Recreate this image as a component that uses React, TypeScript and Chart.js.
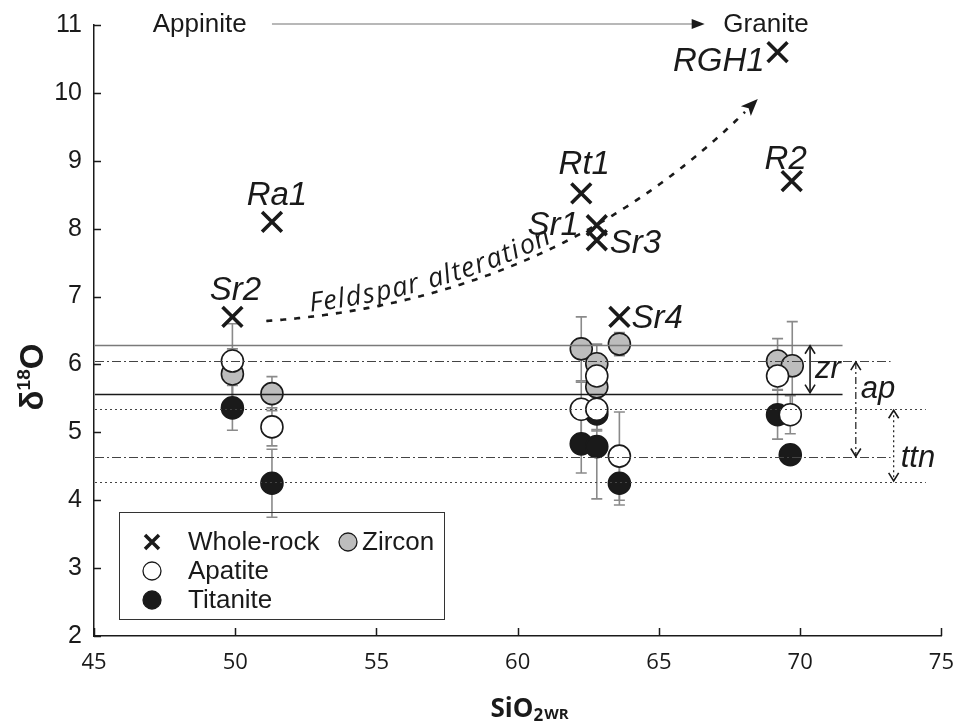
import React, { useEffect, useRef } from "react";
import { Chart, registerables } from "chart.js";

Chart.register(...registerables);

// ---------- data ----------
const xTickValues = [45, 50, 55, 60, 65, 70, 75];
const yTickValues = [2, 3, 4, 5, 6, 7, 8, 9, 10, 11];

const wholeRockNames = ["Sr2", "Ra1", "Rt1", "Sr1", "Sr3", "Sr4", "R2", "RGH1"];
const wholeRockSiO2 = [49.9, 51.3, 62.25, 62.8, 62.8, 63.6, 69.7, 69.2];
const wholeRockD18O = [6.7, 8.1, 8.52, 8.05, 7.83, 6.7, 8.7, 10.6];

const zirconSiO2 = [49.9, 51.3, 62.25, 62.8, 62.8, 63.6, 69.2, 69.72];
const zirconD18O = [5.86, 5.57, 6.23, 6.01, 5.67, 6.3, 6.05, 5.98];
const zirconErr = [0.37, 0.25, 0.47, 0.29, 0.3, 0.17, 0.33, 0.65];

const apatiteSiO2 = [49.9, 51.3, 62.25, 62.8, 62.8, 63.6, 69.2, 69.65];
const apatiteD18O = [6.05, 5.08, 5.34, 5.83, 5.34, 4.65, 5.83, 5.26];
const apatiteErr = [0.55, 0.28, 0.4, 0.2, 0.3, 0.65, 0.2, 0.28];

const titaniteSiO2 = [49.9, 51.3, 62.25, 62.8, 62.8, 63.6, 69.2, 69.65];
const titaniteD18O = [5.36, 4.25, 4.83, 5.27, 4.79, 4.25, 5.26, 4.67];
const titaniteErr = [0.33, 0.5, 0.43, 0.25, 0.77, 0.32, 0.36, 0.1];

// reference bands: zircon (solid), apatite (dash-dot), titanite (dotted)
const bandNames = ["zr", "ap", "ttn"];
const bandMax = [6.29, 6.05, 5.34];
const bandMin = [5.57, 4.63, 4.27];
const bandLineEndSiO2 = [71.5, 73.2, 74.45];
const bandArrowSiO2 = [70.35, 71.97, 73.31];

// feldspar alteration trend (quadratic curve in data units)
const trendSiO2 = [51.1, 61.6, 68.5];
const trendD18O = [6.64, 6.95, 9.91];

// ---------- styles ----------
const INK = "#1a1a1a";
const SANS = "'Liberation Sans', Arial, sans-serif";

type LabelPos = { dx: number; dy: number; align: CanvasTextAlign };
const labelPlacement: Record<string, LabelPos> = {
  Sr2: { dx: 3, dy: -17, align: "center" },
  Ra1: { dx: 5, dy: -17, align: "center" },
  Rt1: { dx: 3, dy: -19, align: "center" },
  Sr1: { dx: -18, dy: 10, align: "right" },
  Sr3: { dx: 13, dy: 13, align: "left" },
  Sr4: { dx: 12, dy: 11, align: "left" },
  R2: { dx: -6, dy: -12, align: "center" },
  RGH1: { dx: -13, dy: 19, align: "right" },
};

function quad(p0: number[], p1: number[], p2: number[], t: number) {
  const u = 1 - t;
  return [
    u * u * p0[0] + 2 * u * t * p1[0] + t * t * p2[0],
    u * u * p0[1] + 2 * u * t * p1[1] + t * t * p2[1],
  ];
}

const overlay = {
  id: "overlay",
  beforeDatasetsDraw(chart: any) {
    const ctx: CanvasRenderingContext2D = chart.ctx;
    const xs = chart.scales.x;
    const ys = chart.scales.y;
    // error bars
    ctx.save();
    ctx.strokeStyle = "#8a8a8a";
    ctx.lineWidth = 1.6;
    const groups = [
      [zirconSiO2, zirconD18O, zirconErr],
      [apatiteSiO2, apatiteD18O, apatiteErr],
      [titaniteSiO2, titaniteD18O, titaniteErr],
    ];
    for (const [sx, sv, se] of groups) {
      for (let i = 0; i < sx.length; i++) {
        const px = xs.getPixelForValue(sx[i]);
        const y1 = ys.getPixelForValue(sv[i] + se[i]);
        const y2 = ys.getPixelForValue(sv[i] - se[i]);
        ctx.beginPath();
        ctx.moveTo(px, y1);
        ctx.lineTo(px, y2);
        ctx.moveTo(px - 5.5, y1);
        ctx.lineTo(px + 5.5, y1);
        ctx.moveTo(px - 5.5, y2);
        ctx.lineTo(px + 5.5, y2);
        ctx.stroke();
      }
    }
    ctx.restore();
  },
  afterDatasetsDraw(chart: any) {
    const ctx: CanvasRenderingContext2D = chart.ctx;
    const xs = chart.scales.x;
    const ys = chart.scales.y;
    const area = chart.chartArea;
    const left = area.left + 1;

    // reference lines
    const styles = [
      { dash: [] as number[], colors: ["#7a7a7a", INK], width: [1.6, 1.3] },
      { dash: [9, 3, 2, 3], colors: ["#444", "#444"], width: [1.1, 1.1] },
      { dash: [2, 3], colors: ["#444", "#444"], width: [1.2, 1.2] },
    ];
    ctx.save();
    for (let b = 0; b < bandNames.length; b++) {
      const st = styles[b];
      const xe = xs.getPixelForValue(bandLineEndSiO2[b]);
      const vals = [bandMax[b], bandMin[b]];
      for (let k = 0; k < 2; k++) {
        const y = Math.round(ys.getPixelForValue(vals[k])) + 0.5;
        ctx.setLineDash(st.dash);
        ctx.strokeStyle = st.colors[k];
        ctx.lineWidth = st.width[k];
        ctx.beginPath();
        ctx.moveTo(left, y);
        ctx.lineTo(xe, y);
        ctx.stroke();
      }
      // double arrows
      const ax = xs.getPixelForValue(bandArrowSiO2[b]);
      const yt = ys.getPixelForValue(bandMax[b]) + 1;
      const yb = ys.getPixelForValue(bandMin[b]) - 1;
      ctx.strokeStyle = INK;
      ctx.lineWidth = b === 0 ? 1.6 : 1.2;
      ctx.setLineDash(b === 0 ? [] : b === 1 ? [7, 3, 2, 3] : [2, 3]);
      ctx.beginPath();
      ctx.moveTo(ax, yt);
      ctx.lineTo(ax, yb);
      ctx.stroke();
      ctx.setLineDash([]);
      ctx.lineWidth = 1.6;
      ctx.beginPath();
      ctx.moveTo(ax - 5, yt + 8);
      ctx.lineTo(ax, yt);
      ctx.lineTo(ax + 5, yt + 8);
      ctx.moveTo(ax - 5, yb - 8);
      ctx.lineTo(ax, yb);
      ctx.lineTo(ax + 5, yb - 8);
      ctx.stroke();
    }
    ctx.restore();

    // band labels
    ctx.save();
    ctx.fillStyle = INK;
    ctx.font = `italic 31px ${SANS}`;
    ctx.textAlign = "left";
    ctx.textBaseline = "alphabetic";
    const zx = xs.getPixelForValue(bandArrowSiO2[0]);
    ctx.fillText("zr", zx + 5, 378);
    const apx = xs.getPixelForValue(bandArrowSiO2[1]);
    ctx.fillText("ap", apx + 5, 398);
    const tx = xs.getPixelForValue(bandArrowSiO2[2]);
    ctx.fillText("ttn", tx + 7, 467);
    ctx.restore();
  },
  afterDraw(chart: any) {
    const ctx: CanvasRenderingContext2D = chart.ctx;
    const xs = chart.scales.x;
    const ys = chart.scales.y;
    const area = chart.chartArea;

    // inward ticks
    ctx.save();
    ctx.strokeStyle = INK;
    ctx.lineWidth = 1.5;
    ctx.beginPath();
    for (const v of yTickValues) {
      const y = Math.round(ys.getPixelForValue(v)) + 0.5;
      ctx.moveTo(area.left, y);
      ctx.lineTo(area.left + 7, y);
    }
    for (const v of xTickValues) {
      const x = Math.round(xs.getPixelForValue(v)) + 0.5;
      ctx.moveTo(x, area.bottom);
      ctx.lineTo(x, area.bottom - 8);
    }
    ctx.stroke();
    ctx.restore();

    // sample labels
    ctx.save();
    ctx.fillStyle = INK;
    ctx.font = `italic 33px ${SANS}`;
    ctx.textBaseline = "alphabetic";
    for (let i = 0; i < wholeRockNames.length; i++) {
      const n = wholeRockNames[i];
      const p = labelPlacement[n];
      ctx.textAlign = p.align;
      const px = xs.getPixelForValue(wholeRockSiO2[i]);
      const py = ys.getPixelForValue(wholeRockD18O[i]);
      ctx.fillText(n, px + p.dx, py + p.dy);
    }
    ctx.restore();

    // Appinite -> Granite
    ctx.save();
    const yTop = ys.getPixelForValue(11) - 1;
    ctx.font = `26px ${SANS}`;
    ctx.fillStyle = INK;
    ctx.textBaseline = "middle";
    ctx.textAlign = "left";
    ctx.fillText("Appinite", xs.getPixelForValue(47.08), yTop + 1);
    ctx.fillText("Granite", xs.getPixelForValue(67.28), yTop + 1);
    const lx1 = xs.getPixelForValue(51.3);
    const lx2 = xs.getPixelForValue(66.62);
    ctx.strokeStyle = "#a0a0a0";
    ctx.lineWidth = 1.5;
    ctx.beginPath();
    ctx.moveTo(lx1, yTop);
    ctx.lineTo(lx2 - 10, yTop);
    ctx.stroke();
    ctx.fillStyle = INK;
    ctx.beginPath();
    ctx.moveTo(lx2, yTop);
    ctx.lineTo(lx2 - 13, yTop - 5);
    ctx.lineTo(lx2 - 13, yTop + 5);
    ctx.closePath();
    ctx.fill();
    ctx.restore();

    // Feldspar alteration curve
    const p0 = [xs.getPixelForValue(trendSiO2[0]), ys.getPixelForValue(trendD18O[0])];
    const p1 = [xs.getPixelForValue(trendSiO2[1]), ys.getPixelForValue(trendD18O[1])];
    const p2 = [xs.getPixelForValue(trendSiO2[2]), ys.getPixelForValue(trendD18O[2])];
    const N = 400;
    const pts: number[][] = [];
    const cum: number[] = [0];
    for (let i = 0; i <= N; i++) {
      const q = quad(p0, p1, p2, i / N);
      if (i > 0) {
        const pr = pts[i - 1];
        cum.push(cum[i - 1] + Math.hypot(q[0] - pr[0], q[1] - pr[1]));
      }
      pts.push(q);
    }
    const total = cum[N];
    const headLen = 17;
    ctx.save();
    ctx.strokeStyle = INK;
    ctx.lineWidth = 2.6;
    ctx.setLineDash([6, 8]);
    ctx.beginPath();
    ctx.moveTo(pts[0][0], pts[0][1]);
    for (let i = 1; i <= N; i++) {
      if (cum[i] > total - headLen) break;
      ctx.lineTo(pts[i][0], pts[i][1]);
    }
    ctx.stroke();
    ctx.setLineDash([]);
    // arrow head
    const tip = pts[N];
    const pre = pts[N - 10];
    const ang = Math.atan2(tip[1] - pre[1], tip[0] - pre[0]);
    ctx.fillStyle = INK;
    ctx.translate(tip[0], tip[1]);
    ctx.rotate(ang);
    ctx.beginPath();
    ctx.moveTo(0, 0);
    ctx.lineTo(-headLen, -7);
    ctx.lineTo(-headLen + 4, 0);
    ctx.lineTo(-headLen, 7);
    ctx.closePath();
    ctx.fill();
    ctx.restore();

    // text along curve
    ctx.save();
    ctx.fillStyle = INK;
    ctx.font = `italic 27px 'Open Sans', ${SANS}`;
    ctx.textBaseline = "alphabetic";
    ctx.textAlign = "left";
    const text = "Feldspar alteration";
    const spacing = 1.6;
    let s = 44;
    for (const ch of text) {
      const w = ctx.measureText(ch).width;
      const sm = s + w / 2;
      let i = 1;
      while (i < N && cum[i] < sm) i++;
      const a = pts[i - 1];
      const b = pts[i];
      const dx = b[0] - a[0];
      const dy = b[1] - a[1];
      const L = Math.hypot(dx, dy) || 1;
      const nx = dy / L;
      const ny = -dx / L;
      const an = Math.atan2(dy, dx);
      ctx.save();
      ctx.translate(b[0] + nx * 5, b[1] + ny * 5);
      ctx.rotate(an);
      ctx.fillText(ch, -w / 2, 0);
      ctx.restore();
      s += w + spacing;
    }
    ctx.restore();

    // legend
    ctx.save();
    ctx.strokeStyle = "#333";
    ctx.lineWidth = 1;
    ctx.strokeRect(119.5, 512.5, 325, 107);
    ctx.font = `26px ${SANS}`;
    ctx.fillStyle = INK;
    ctx.textBaseline = "middle";
    ctx.textAlign = "left";
    // cross
    ctx.lineWidth = 3.5;
    ctx.strokeStyle = INK;
    ctx.beginPath();
    ctx.moveTo(145, 535);
    ctx.lineTo(159, 549);
    ctx.moveTo(159, 535);
    ctx.lineTo(145, 549);
    ctx.stroke();
    ctx.fillText("Whole-rock", 188, 543);
    const circ = (x: number, y: number, fill: string) => {
      ctx.beginPath();
      ctx.arc(x, y, 9, 0, Math.PI * 2);
      ctx.fillStyle = fill;
      ctx.fill();
      ctx.lineWidth = 1.3;
      ctx.strokeStyle = INK;
      ctx.stroke();
    };
    circ(348, 542, "#bdbdbd");
    circ(152, 571, "#ffffff");
    circ(152, 600, INK);
    ctx.fillStyle = INK;
    ctx.fillText("Zircon", 362, 543);
    ctx.fillText("Apatite", 188, 572);
    ctx.fillText("Titanite", 188, 601);
    ctx.restore();

    // axis titles
    ctx.save();
    ctx.fillStyle = INK;
    ctx.textBaseline = "alphabetic";
    ctx.textAlign = "left";
    ctx.translate(43, 377);
    ctx.rotate(-Math.PI / 2);
    const f1 = `bold 33px ${SANS}`;
    const f2 = `bold 19px ${SANS}`;
    ctx.font = f1;
    const wd = ctx.measureText("δ").width;
    const wo = ctx.measureText("O").width;
    ctx.font = f2;
    const w18 = ctx.measureText("18").width;
    const tot = wd + w18 + wo;
    let cx = -tot / 2;
    ctx.font = f1;
    ctx.fillText("δ", cx, 0);
    cx += wd;
    ctx.font = f2;
    ctx.fillText("18", cx, -13);
    cx += w18;
    ctx.font = f1;
    ctx.fillText("O", cx, 0);
    ctx.restore();

    ctx.save();
    ctx.fillStyle = INK;
    ctx.textBaseline = "alphabetic";
    ctx.textAlign = "left";
    const g1 = `bold 26px 'Open Sans', ${SANS}`;
    const g2 = `bold 17px 'Open Sans', ${SANS}`;
    const g3 = `bold 15px 'Open Sans', ${SANS}`;
    ctx.font = g1;
    const wS = ctx.measureText("SiO").width;
    ctx.font = g2;
    const w2 = ctx.measureText("2").width;
    ctx.font = g3;
    const wW = ctx.measureText("WR").width;
    let sx = 530 - (wS + w2 + wW + 2) / 2;
    ctx.font = g1;
    ctx.fillText("SiO", sx, 717);
    sx += wS;
    ctx.font = g2;
    ctx.fillText("2", sx, 721);
    sx += w2 + 1;
    ctx.font = g3;
    ctx.fillText("WR", sx, 719);
    ctx.restore();
  },
};

export default function App() {
  const ref = useRef<HTMLCanvasElement | null>(null);
  useEffect(() => {
    if (!ref.current) return;
    const toPts = (xs: number[], ys: number[]) => xs.map((x, i) => ({ x, y: ys[i] }));
    const chart = new Chart(ref.current, {
      type: "scatter",
      data: {
        datasets: [
          {
            label: "Whole-rock",
            data: toPts(wholeRockSiO2, wholeRockD18O),
            pointStyle: "crossRot",
            pointRadius: 14,
            borderColor: INK,
            borderWidth: 3.6,
            backgroundColor: INK,
            order: 0,
          },
          {
            label: "Apatite",
            data: toPts(apatiteSiO2, apatiteD18O),
            pointRadius: 11,
            backgroundColor: "#ffffff",
            borderColor: INK,
            borderWidth: 1.6,
            order: 1,
          },
          {
            label: "Zircon",
            data: toPts(zirconSiO2, zirconD18O),
            pointRadius: 11,
            backgroundColor: "#bdbdbd",
            borderColor: INK,
            borderWidth: 1.6,
            order: 2,
          },
          {
            label: "Titanite",
            data: toPts(titaniteSiO2, titaniteD18O),
            pointRadius: 11,
            backgroundColor: INK,
            borderColor: INK,
            borderWidth: 1.6,
            order: 3,
          },
        ],
      },
      options: {
        animation: false,
        responsive: false,
        events: [],
        layout: { padding: { left: 0, right: 4, top: 25, bottom: 0 } },
        plugins: { legend: { display: false }, tooltip: { enabled: false } },
        scales: {
          x: {
            type: "linear",
            min: 45,
            max: 75,
            afterBuildTicks: (s: any) => {
              s.ticks = xTickValues.map((v) => ({ value: v }));
            },
            ticks: { padding: 14, color: INK, font: { family: "'Open Sans', sans-serif", size: 22 } },
            grid: { display: false, drawTicks: false },
            border: { display: true, color: INK, width: 1.5 },
            afterFit: (s: any) => {
              s.height = 91;
              s.paddingLeft = 0;
              s.paddingRight = 0;
            },
          },
          y: {
            type: "linear",
            min: 2,
            max: 11,
            afterBuildTicks: (s: any) => {
              s.ticks = yTickValues.map((v) => ({ value: v }));
            },
            ticks: { padding: 12, color: INK, font: { family: SANS, size: 25 } },
            grid: { display: false, drawTicks: false },
            border: { display: true, color: INK, width: 1.5 },
            afterFit: (s: any) => {
              s.width = 94;
              s.paddingTop = 0;
              s.paddingBottom = 0;
            },
          },
        },
      },
      plugins: [overlay],
    });
    return () => chart.destroy();
  }, []);
  return (
    <div style={{ position: "absolute", left: 0, top: 0, width: 959, height: 727, background: "#fff" }}>
      <canvas ref={ref} width={959} height={727} />
    </div>
  );
}
